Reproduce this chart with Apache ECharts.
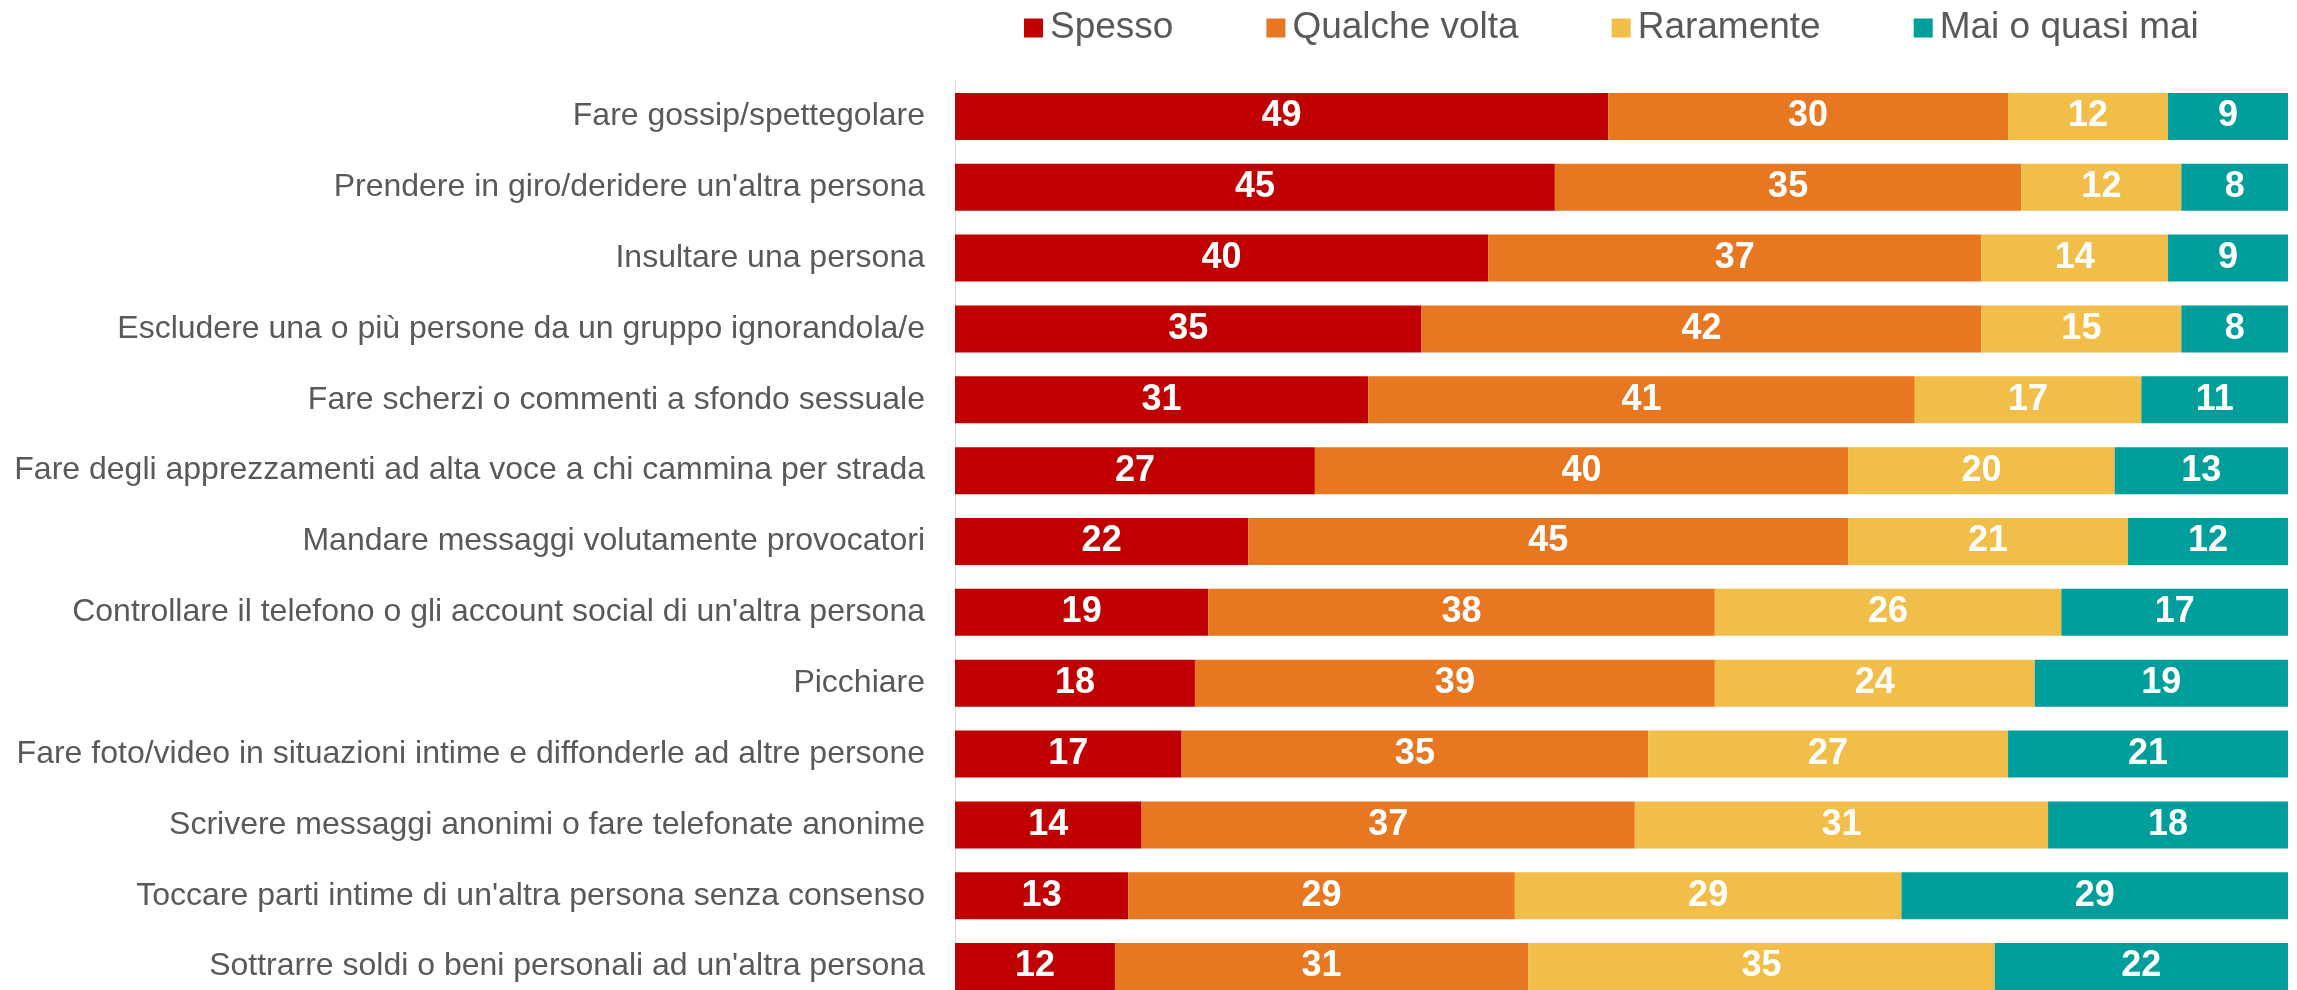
<!DOCTYPE html>
<html>
<head>
<meta charset="utf-8">
<script src="https://cdn.jsdelivr.net/npm/echarts@6/dist/echarts.min.js"></script>
<style>
  html, body { margin: 0; padding: 0; background: #fff; }
  #chart { width: 2297px; height: 990px; }
</style>
</head>
<body>
<div id="chart"></div>
<script>
// categories top to bottom
var categories = [
  'Fare gossip/spettegolare',
  "Prendere in giro/deridere un'altra persona",
  'Insultare una persona',
  'Escludere una o più persone da un gruppo ignorandola/e',
  'Fare scherzi o commenti a sfondo sessuale',
  'Fare degli apprezzamenti ad alta voce a chi cammina per strada',
  'Mandare messaggi volutamente provocatori',
  "Controllare il telefono o gli account social di un'altra persona",
  'Picchiare',
  'Fare foto/video in situazioni intime e diffonderle ad altre persone',
  'Scrivere messaggi anonimi o fare telefonate anonime',
  "Toccare parti intime di un'altra persona senza consenso",
  "Sottrarre soldi o beni personali ad un'altra persona"
];

var spesso       = [49, 45, 40, 35, 31, 27, 22, 19, 18, 17, 14, 13, 12];
var qualcheVolta = [30, 35, 37, 42, 41, 40, 45, 38, 39, 35, 37, 29, 31];
var raramente    = [12, 12, 14, 15, 17, 20, 21, 26, 24, 27, 31, 29, 35];
var maiQuasiMai  = [ 9,  8,  9,  8, 11, 13, 12, 17, 19, 21, 18, 29, 22];

var seriesNames = ['Spesso', 'Qualche volta', 'Raramente', 'Mai o quasi mai'];
var seriesData = [spesso, qualcheVolta, raramente, maiQuasiMai];
var colors = ['#C00000', '#E87722', '#F1BE4A', '#009E9B'];

var chart = echarts.init(document.getElementById('chart'));

var series = seriesNames.map(function (name, i) {
  return {
    name: name,
    type: 'bar',
    stack: 'tot',
    data: seriesData[i],
    barWidth: 47,
    itemStyle: { color: colors[i] },
    label: {
      show: true,
      position: 'inside',
      color: '#fff',
      fontFamily: 'Liberation Sans',
      fontWeight: 'bold',
      fontSize: 36
    }
  };
});

chart.setOption({
  animation: false,
  color: colors,
  textStyle: { fontFamily: 'Liberation Sans' },
  legend: {
    left: 1019,
    top: 4,
    icon: 'rect',
    itemWidth: 19,
    itemHeight: 19,
    itemGap: 93,
    data: seriesNames,
    textStyle: {
      fontFamily: 'Liberation Sans',
      fontSize: 37,
      lineHeight: 38,
      color: '#595959',
      padding: [0, 0, 0, 2]
    }
  },
  // bars run past the bottom edge, as in the source picture
  grid: { left: 955, right: 9, top: 81, height: 921, containLabel: false, outerBoundsMode: 'none' },
  xAxis: {
    type: 'value',
    min: 0,
    max: 100,
    show: false
  },
  yAxis: {
    type: 'category',
    inverse: true,
    data: categories,
    axisLine: { show: true, lineStyle: { color: '#d9d9d9', width: 1 } },
    axisTick: { show: false },
    axisLabel: {
      margin: 30,
      fontFamily: 'Liberation Sans',
      fontSize: 32,
      color: '#595959'
    }
  },
  series: series
});
</script>
</body>
</html>
